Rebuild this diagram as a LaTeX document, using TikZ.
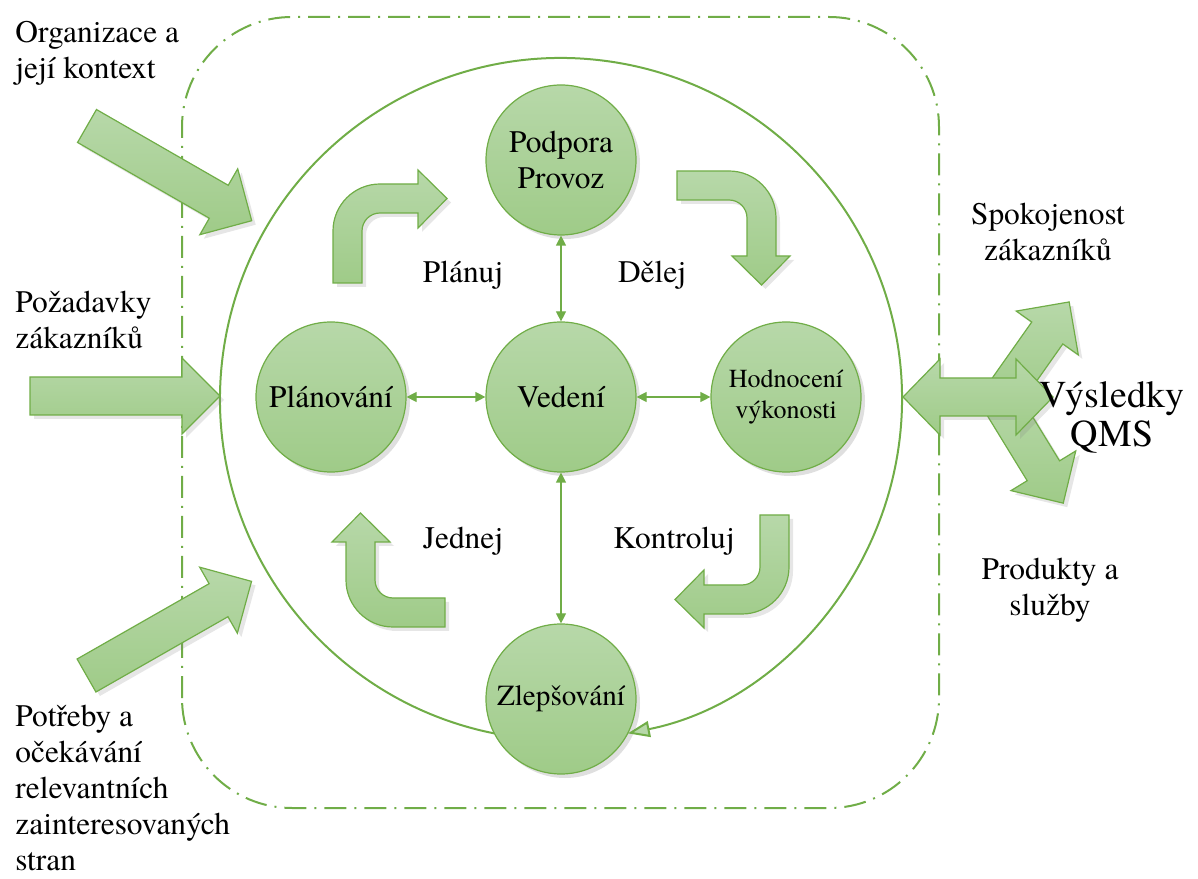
\documentclass[tikz,border=0pt]{standalone}
\usepackage{fontspec}
\IfFontExistsTF{texgyretermes-regular.otf}
  {\setmainfont{texgyretermes-regular.otf}}
  {\setmainfont{Liberation Serif}}
\usetikzlibrary{arrows.meta,shadows,calc}

\definecolor{qmsline}{HTML}{70AD47}
\definecolor{qmstop}{HTML}{B7D8A9}
\definecolor{qmsbottom}{HTML}{9FCB88}

\newcommand\qmsfont{\fontsize{15.7pt}{18pt}\selectfont}

\tikzset{
  phase/.style={circle, draw=qmsline, line width=0.6pt, top color=qmstop,
    bottom color=qmsbottom, minimum size=75pt, inner sep=1pt, align=center,
    drop shadow={opacity=0.25, shadow xshift=2pt, shadow yshift=-2pt}},
  link/.style={draw=qmsline, line width=0.6pt,
    {Triangle[length=5pt,width=5pt]}-{Triangle[length=5pt,width=5pt]}},
  blockarr/.style={draw=qmsline, line width=0.6pt, top color=qmstop,
    bottom color=qmsbottom,
    drop shadow={opacity=0.2, shadow xshift=2pt, shadow yshift=-2pt}},
  frame/.style={draw=qmsline, line width=1pt, rounded corners=55pt,
    dash pattern=on 11pt off 4pt on 1pt off 4pt},
  cycleline/.style={draw=qmsline, line width=1pt,
    -{Triangle[length=11pt,width=8pt,fill=qmstop]}},
  label/.style={inner sep=0pt}
}

% straight block arrow: tail, angle, length
\newcommand\blockarrow[3]{%
  \draw[blockarr, shift={#1}, rotate=#2] (0,-19) -- ({#3-38},-19)
    -- ({#3-38},-38) -- (#3,0) -- ({#3-38},38) -- ({#3-38},19) -- (0,19) -- cycle;}
% bent arrow round the hub
\newcommand\bentarrow[1]{%
  \draw[blockarr, shift={(hub)}, rotate=#1] (-228,116) -- (-228,168)
    arc[start angle=180, end angle=90, radius=47] -- (-143,215) -- (-143,229)
    -- (-114,200.5) -- (-143,171) -- (-143,186) -- (-181,186)
    arc[start angle=90, end angle=180, radius=18] -- (-199,116) -- cycle;}

\begin{document}
\begin{tikzpicture}[x=0.5pt, y=0.5pt, font=\qmsfont]
\useasboundingbox (0,0) rectangle (1198,878);

\draw[frame] (182,70) rectangle (939,861);

\coordinate (hub) at (561,479);
\node[phase] (vedeni) at (561,481) {Vedení};
\node[phase] (podpora) at (561,718) {Podpora\\Provoz};
\node[phase] (planovani) at (331,481) {Plánování};
\node[phase, font=\fontsize{13pt}{15.5pt}\selectfont] (hodnoceni) at (786,481) {Hodnocení\\výkonosti};
\node[phase, font=\fontsize{14.6pt}{17pt}\selectfont] (zlepsovani) at (561,179) {Zlepšování};

\draw[cycleline] ($(hub)+(-101.3:341)$) arc[start angle=-101.3, end angle=-438.7, radius=341];

\draw[link] (vedeni) -- (podpora);
\draw[link] (vedeni) -- (planovani);
\draw[link] (vedeni) -- (hodnoceni);
\draw[link] (vedeni) -- (zlepsovani);

% PDCA arrows
\bentarrow{0}
\bentarrow{-90}
\bentarrow{-180}
\bentarrow{-270}

\node[label] (planuj) at (463,603) {Plánuj};
\node[label] (delej) at (652,603) {Dělej};
\node[label] (jednej) at (463,337) {Jednej};
\node[label] (kontroluj) at (674,337) {Kontroluj};

% inputs
\blockarrow{(87,752)}{-29.9}{190}
\blockarrow{(30,482)}{0}{190}
\blockarrow{(86.5,202.5)}{29.7}{190}

\node[label, anchor=north west, align=left] (kontext) at (15,857) {Organizace a\\její kontext};
\node[label, anchor=north west, align=left] (pozadavky) at (15,587) {Požadavky\\zákazníků};
\node[label, anchor=north west, align=left] (potreby) at (15,173) {Potřeby a\\očekávání\\relevantních\\zainteresovaných\\stran};

% outputs
\blockarrow{(1000,478)}{54.8}{120}
\blockarrow{(1000,478)}{-58.5}{121}
\draw[blockarr] (903,481) -- (940,519) -- (940,500) -- (1016,500) -- (1016,519)
  -- (1053,481) -- (1016,443) -- (1016,462) -- (940,462) -- (940,443) -- cycle;

\node[label, anchor=north, align=center] (spokojenost) at (1048,675) {Spokojenost\\zákazníků};
\node[label, align=center, font=\fontsize{19pt}{19.5pt}\selectfont] (vysledky) at (1112,461) {Výsledky\\QMS};
\node[label, anchor=north, align=center] (produkty) at (1050,320) {Produkty a\\služby};
\end{tikzpicture}
\end{document}
